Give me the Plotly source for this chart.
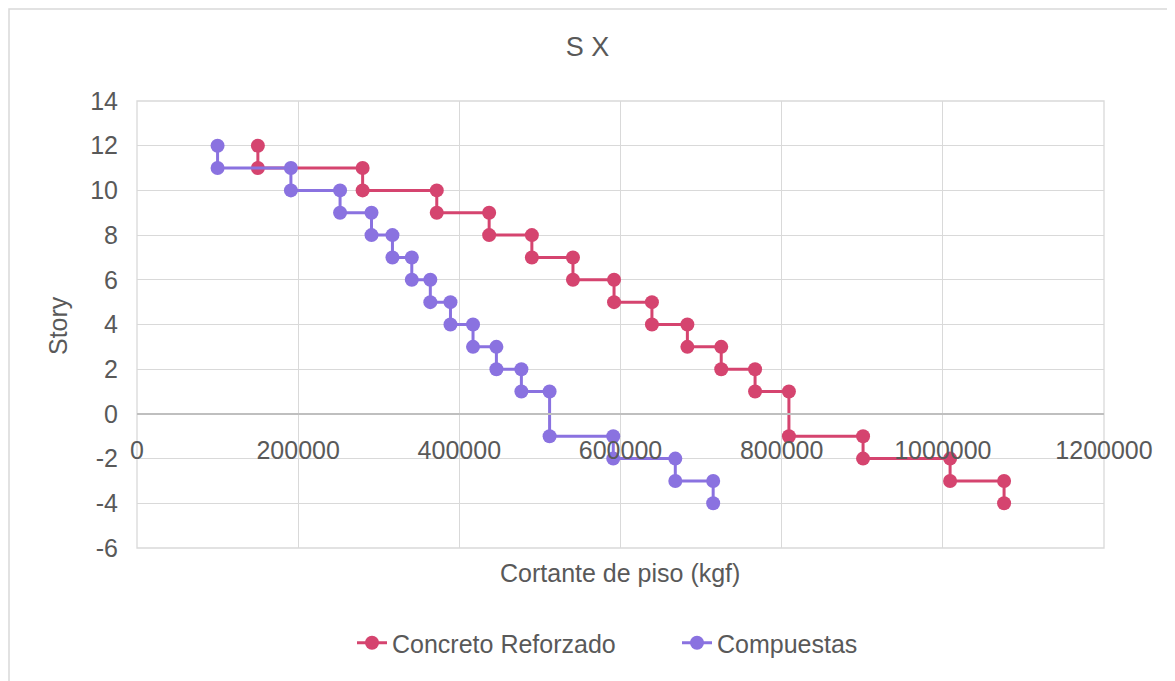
import plotly.graph_objects as go

stories = [12, 11, 11, 10, 10, 9, 9, 8, 8, 7, 7, 6, 6, 5, 5, 4, 4, 3, 3, 2, 2, 1, 1,
           -1, -1, -2, -2, -3, -3, -4]
concreto_x = [150000, 150000, 280000, 280000, 372000, 372000, 437000, 437000,
              490000, 490000, 541000, 541000, 592000, 592000, 639000, 639000,
              683000, 683000, 725000, 725000, 767000, 767000, 809000, 809000,
              901000, 901000, 1009000, 1009000, 1076000, 1076000]
compuestas_x = [100000, 100000, 191000, 191000, 252000, 252000, 291000, 291000,
                317000, 317000, 341000, 341000, 364000, 364000, 389000, 389000,
                417000, 417000, 446000, 446000, 477000, 477000, 512000, 512000,
                591000, 591000, 668000, 668000, 715000, 715000]
x_ticks = [0, 200000, 400000, 600000, 800000, 1000000, 1200000]
x_tick_labels = ["0", "200000", "400000", "600000", "800000", "1000000", "1200000"]
y_ticks = [-6, -4, -2, 0, 2, 4, 6, 8, 10, 12, 14]
y_tick_labels = ["-6", "-4", "-2", "0", "2", "4", "6", "8", "10", "12", "14"]

RED = "#D5446F"
PURPLE = "#8A72E0"
TXT = "#595959"
GRID = "#D9D9D9"
FONT = "Liberation Sans, Arial, sans-serif"

# page offset (body margin) compensation
OFF = 8
L, T, PW, PH = 137 - OFF, 101 - OFF, 967, 447
W, H = 1175, 681


def px_x(sx):
    return (sx - OFF - L) / PW


def px_y(sy):
    return (T + PH - (sy - OFF)) / PH


fig = go.Figure()
fig.add_trace(go.Scatter(x=concreto_x, y=stories, mode="lines+markers",
                         name="Concreto Reforzado",
                         line=dict(color=RED, width=3),
                         marker=dict(color=RED, size=14)))
fig.add_trace(go.Scatter(x=compuestas_x, y=stories, mode="lines+markers",
                         name="Compuestas",
                         line=dict(color=PURPLE, width=3),
                         marker=dict(color=PURPLE, size=14)))

fig.update_layout(
    width=W, height=H,
    margin=dict(l=L, r=W - L - PW, t=T, b=H - T - PH, pad=0),
    paper_bgcolor="white", plot_bgcolor="white",
    font=dict(family=FONT, color=TXT, size=25),
    title=dict(text="S X", x=(587.5 - OFF) / W, xref="container",
               y=1 - (47 - OFF) / H, yref="container", yanchor="middle",
               xanchor="center", font=dict(size=27, color=TXT, family=FONT)),
    showlegend=True,
    legend=dict(orientation="h", x=px_x(352), xanchor="left",
                y=px_y(643), yanchor="middle", font=dict(size=25, color=TXT),
                entrywidth=280, entrywidthmode="pixels",
                bgcolor="rgba(0,0,0,0)"),
    xaxis=dict(range=[0, 1200000], tickvals=x_ticks, ticktext=x_tick_labels,
               showgrid=True, gridcolor=GRID, gridwidth=1.3, zeroline=False,
               showline=True, linecolor="#BFBFBF", linewidth=1.5,
               anchor="free", position=0.3, ticks="", ticklabelstandoff=14,
               tickfont=dict(size=25, color=TXT)),
    yaxis=dict(range=[-6, 14], tickvals=y_ticks, ticktext=y_tick_labels,
               domain=[0, 1],
               showgrid=True, gridcolor=GRID, gridwidth=1.3, zeroline=False,
               showline=False, ticks="", ticklabelstandoff=18,
               tickfont=dict(size=25, color=TXT)),
    annotations=[
        dict(text="Cortante de piso (kgf)", xref="paper", yref="paper",
             x=px_x(620), y=px_y(573), xanchor="center", yanchor="middle",
             showarrow=False, font=dict(size=25, color=TXT)),
        dict(text="Story", xref="paper", yref="paper",
             x=px_x(58), y=px_y(326), xanchor="center",
             yanchor="middle", textangle=-90, showarrow=False,
             font=dict(size=25, color=TXT)),
    ],
    shapes=[
        dict(type="rect", xref="paper", yref="paper", x0=0, x1=1, y0=0, y1=1,
             line=dict(color=GRID, width=1.3), layer="below"),
        dict(type="rect", xref="paper", yref="paper",
             x0=-(L - 1) / PW, x1=1.2, y0=-0.5, y1=(T + PH - 1) / PH,
             line=dict(color="#D9D9D9", width=1.5), layer="below"),
    ],
)

fig.write_html("out.html")
